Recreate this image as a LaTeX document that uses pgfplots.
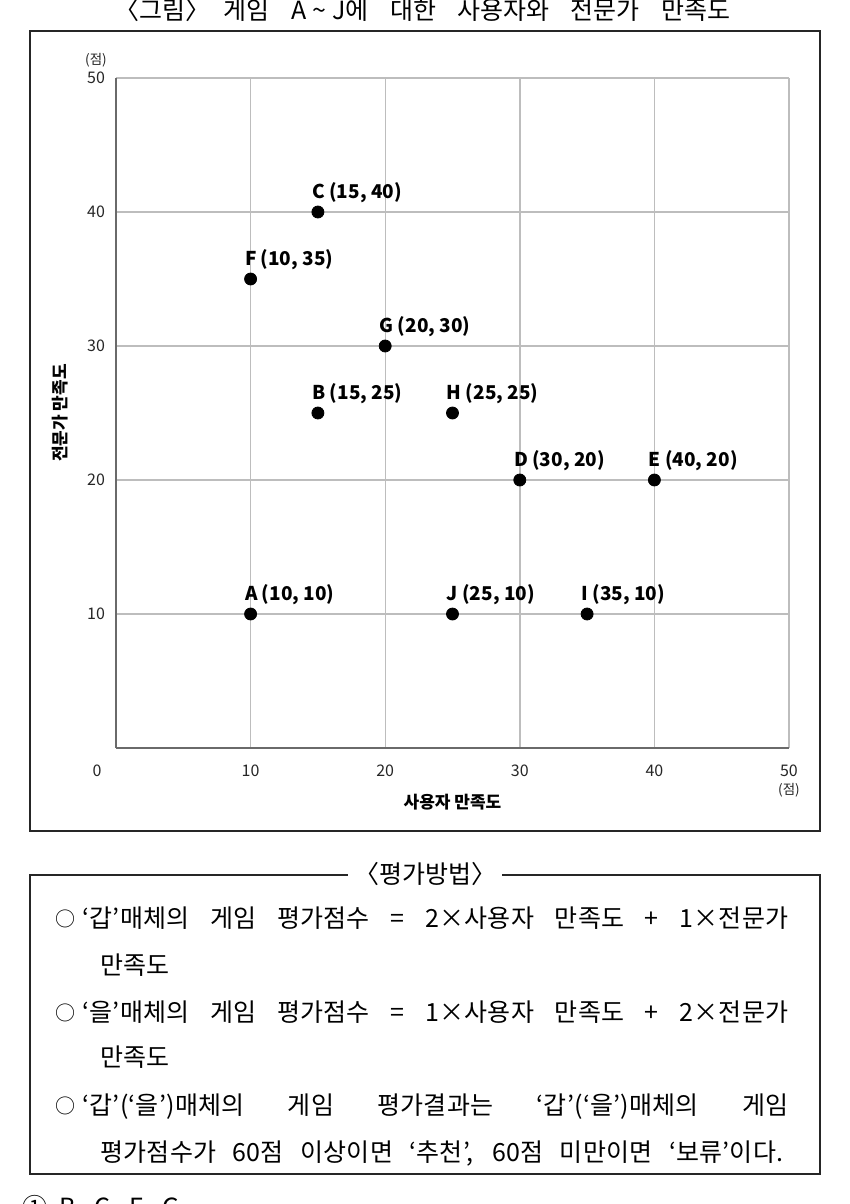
\documentclass[border=0pt]{standalone}
\usepackage{fontspec}
\setmainfont{Noto Sans CJK KR}
\newfontfamily\boxfont[LetterSpace=1]{Noto Sans CJK KR}
\usepackage{pgfplots}
\pgfplotsset{compat=1.18}
\definecolor{gridgray}{HTML}{BDBDBD}
\definecolor{axisgray}{HTML}{6A6A6A}
\begin{document}
\begin{tikzpicture}
\begin{scope}[x=0.5pt,y=-0.5pt]
\useasboundingbox (0,0) rectangle (850,1204);
\clip (0,0) rectangle (850,1204);
\node[anchor=base west, inner sep=0pt, font=\fontsize{12.5}{14}\selectfont] at (114,20) {\makebox[308pt][s]{〈그림〉\kern-4pt\ 게임 A\kern3pt\textasciitilde\kern3pt J에 대한 사용자와 전문가 만족도}};
\draw[line width=1pt, black!85] (30,31) rectangle (820,831);
% evaluation box
\draw[line width=0.8pt, black!85] (30,875) rectangle (820,1174);
\node[fill=white, inner xsep=3pt, inner ysep=1pt, font=\fontsize{12.5}{14}\selectfont] at (425,874) {〈평가방법〉};
\begin{scope}[every node/.style={inner sep=0pt, anchor=base west, font=\boxfont\fontsize{12.5}{14}\selectfont}]
\node[font=\fontsize{10}{12}\selectfont] at (55,926) {○};
\node at (82,927) {\makebox[353pt][s]{‘갑’매체의 게임 평가점수 = 2×사용자 만족도 + 1×전문가}};
\node at (100,974) {만족도};
\node[font=\fontsize{10}{12}\selectfont] at (55,1020) {○};
\node at (82,1021) {\makebox[353pt][s]{‘을’매체의 게임 평가점수 = 1×사용자 만족도 + 2×전문가}};
\node at (100,1066) {만족도};
\node[font=\fontsize{10}{12}\selectfont] at (55,1113) {○};
\node at (82,1114) {\makebox[353pt][s]{‘갑’(‘을’)매체의 게임 평가결과는 ‘갑’(‘을’)매체의 게임}};
\node at (100,1161) {\makebox[341.5pt][s]{평가점수가 60점 이상이면 ‘추천’, 60점 미만이면 ‘보류’이다.}};
\node at (22,1216) {①\ \ B,\ \ C,\ \ E,\ \ G};
\end{scope}
\end{scope}
\begin{axis}[
  at={(58pt,-374pt)}, anchor=south west,
  scale only axis, width=336.5pt, height=335pt,
  xmin=0, xmax=50, ymin=0, ymax=50,
  xtick={10,20,30,40,50}, ytick={10,20,30,40,50},
  grid=major, grid style={gridgray, line width=0.7pt},
  axis x line*=bottom, axis y line*=left,
  axis line style={axisgray, line width=1pt},
  major tick length=0pt,
  tick label style={font=\fontsize{8}{9}\selectfont, text=black!85},
  /pgf/number format/assume math mode=true,
  xticklabel style={anchor=base, yshift=-14pt},
  yticklabel style={anchor=center, xshift=-10pt},
  extra x ticks={0}, extra x tick labels={0},
  extra x tick style={grid=none, xticklabel style={xshift=-9.5pt}},
  xlabel={사용자 만족도}, ylabel={전문가 만족도},
  label style={font=\bfseries\fontsize{8.5}{10}\selectfont},
  xlabel style={at={(axis description cs:0.5,-0.0806)}, anchor=center},
  ylabel style={at={(axis description cs:-0.083,0.5)}, anchor=center},
  clip=false,
]
\addplot[only marks, mark=*, mark size=3pt, black,
  nodes near coords, point meta=explicit symbolic,
  every node near coord/.append style={anchor=base west, inner sep=0pt, xshift=-3pt, yshift=7pt,
    font=\bfseries\fontsize{9.5}{11}\selectfont, text=black}]
  table[x=x, y=y, meta=label] {
x y label
10 10 {A (10, 10)}
15 25 {B (15, 25)}
15 40 {C (15, 40)}
30 20 {D (30, 20)}
40 20 {E (40, 20)}
10 35 {F (10, 35)}
20 30 {G (20, 30)}
25 25 {H (25, 25)}
35 10 {I (35, 10)}
25 10 {J (25, 10)}
};
\node[font=\fontsize{6.75}{7}\selectfont, text=black!85, xshift=-10pt, yshift=9pt] at (rel axis cs:0,1) {(점)};
\node[font=\fontsize{6.75}{7}\selectfont, text=black!85, yshift=-21pt] at (rel axis cs:1,0) {(점)};
\end{axis}
\end{tikzpicture}
\end{document}
